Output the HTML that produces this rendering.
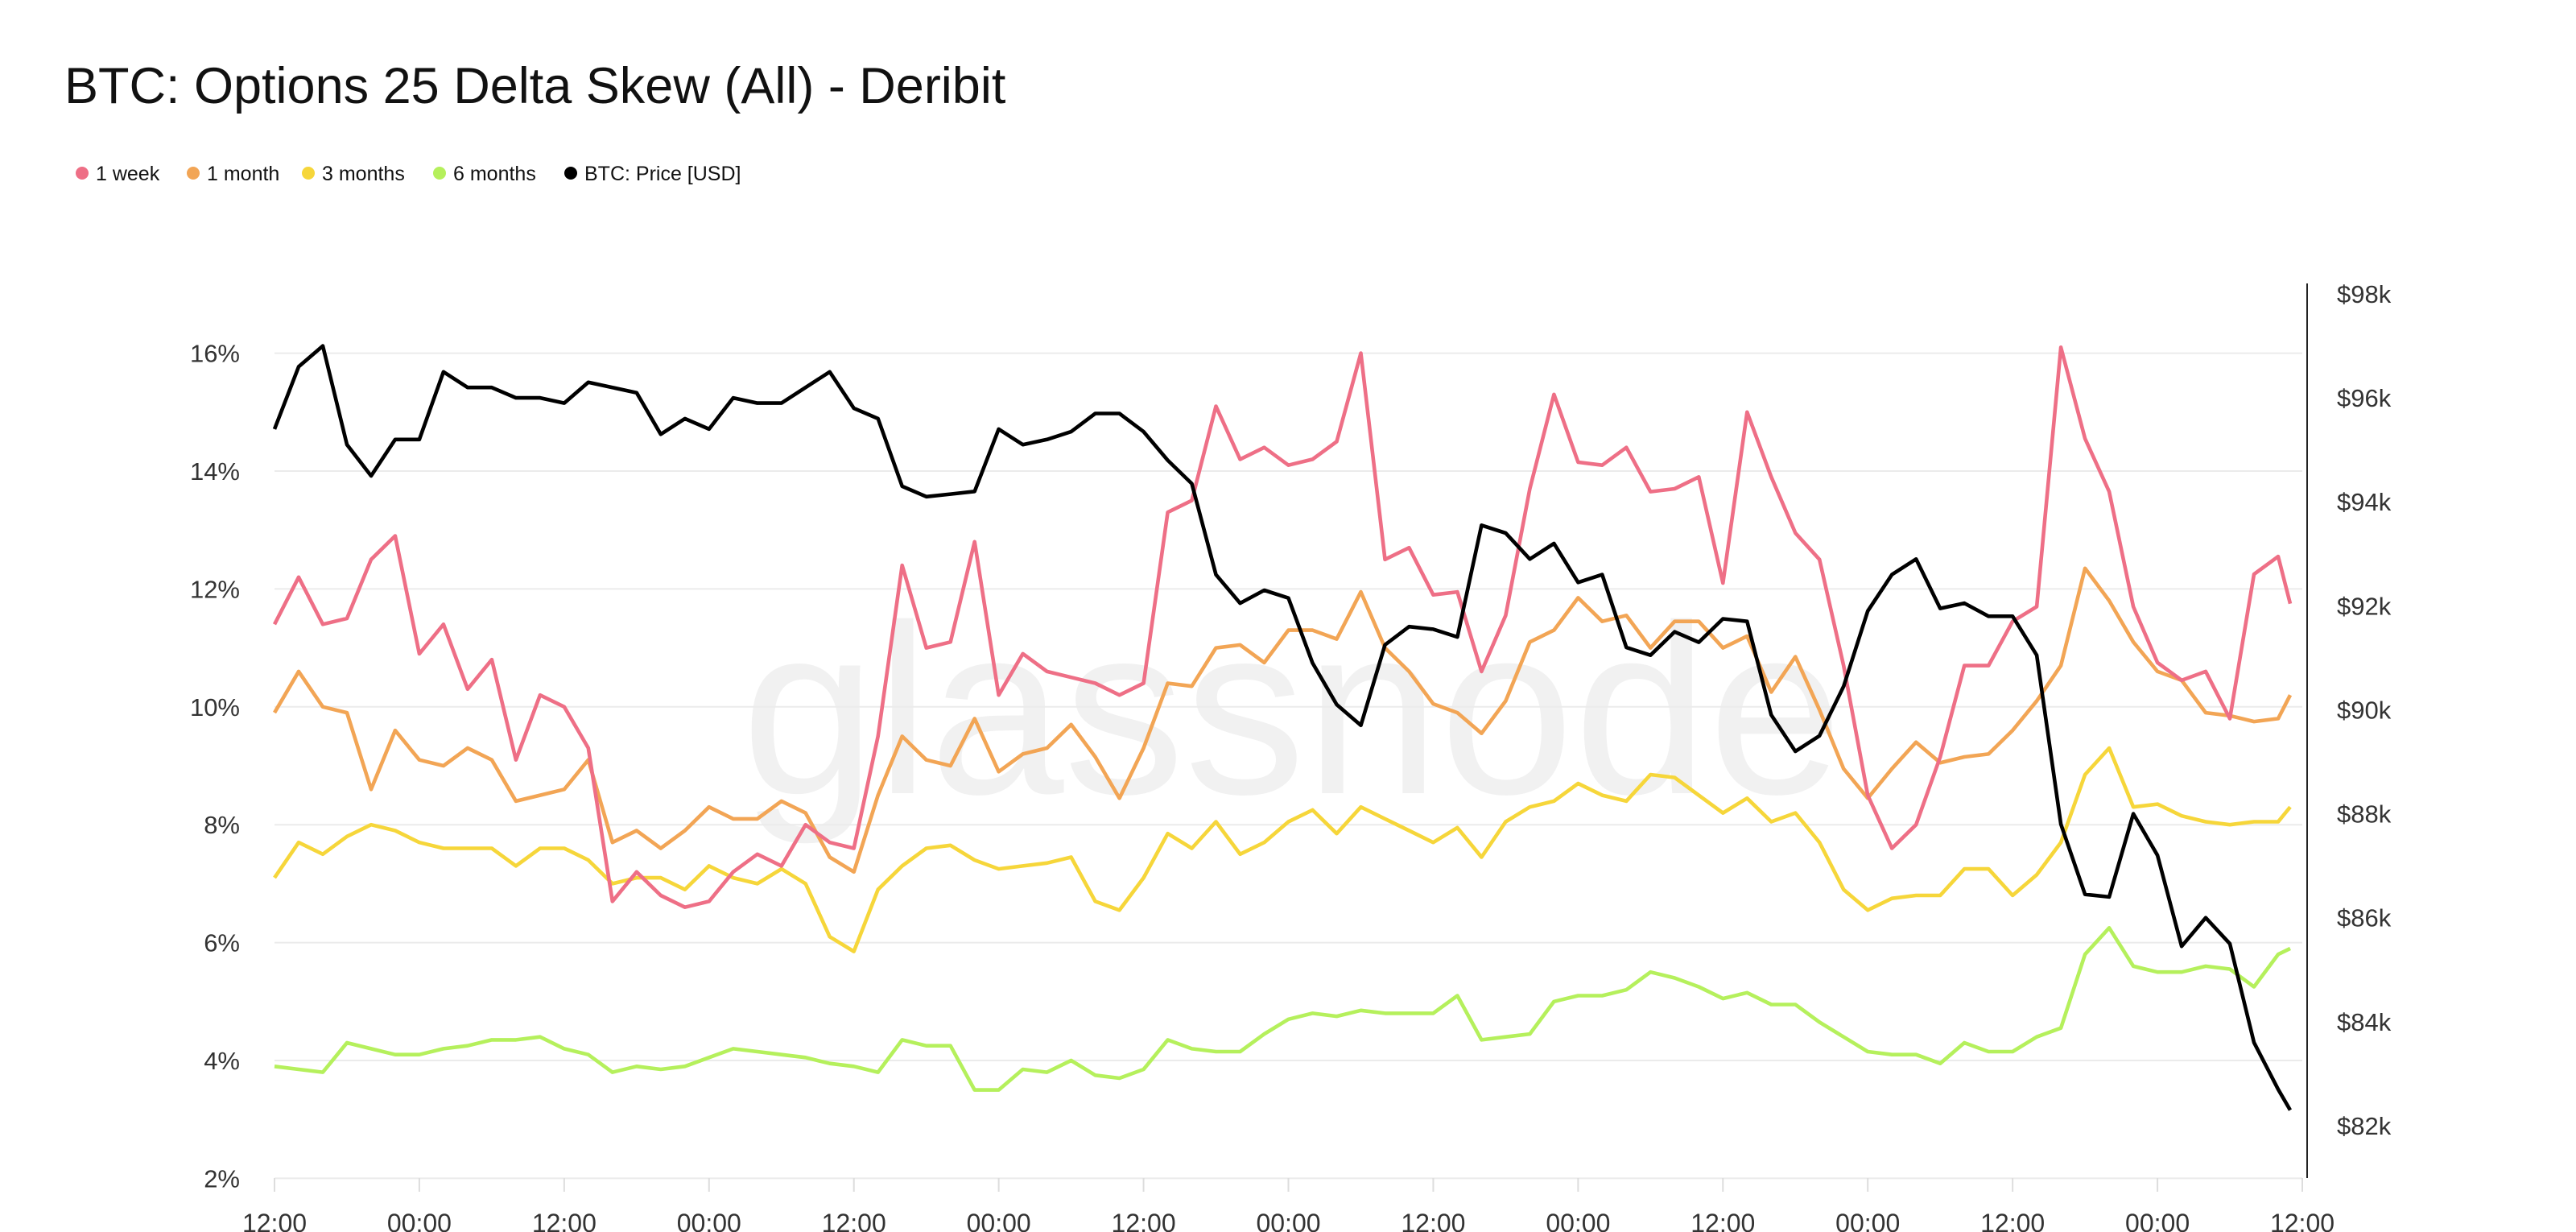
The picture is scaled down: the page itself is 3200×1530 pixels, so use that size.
<!DOCTYPE html>
<html><head><meta charset="utf-8"><style>
html,body{margin:0;padding:0;background:#fff;}
svg{display:block;font-family:"Liberation Sans",Arial,sans-serif;}
</style></head><body>
<svg id="chart" width="3200" height="1530" viewBox="0 0 3200 1530" xmlns="http://www.w3.org/2000/svg">
<text x="80" y="128" font-size="63" fill="#111">BTC: Options 25 Delta Skew (All) - Deribit</text>
<g id="legend"></g>
<text x="1605" y="985" font-size="300" fill="#f1f1f1" text-anchor="middle">glassnode</text>
<g id="grid"></g>
<g id="series"></g>
<g id="axes"></g>
</svg>
<script>
const tickLabelsX = ["12:00","00:00","12:00","00:00","12:00","00:00","12:00","00:00","12:00","00:00","12:00","00:00","12:00","00:00","12:00"];
const leftTicks = [2,4,6,8,10,12,14,16];
const rightTicks = [82,84,86,88,90,92,94,96,98];
const week1 = [11.4,12.2,11.4,11.5,12.5,12.9,10.9,11.4,10.3,10.8,9.1,10.2,10.0,9.3,6.7,7.2,6.8,6.6,6.7,7.2,
7.5,7.3,8.0,7.7,7.6,9.5,12.4,11.0,11.1,12.8,10.2,10.9,10.6,10.5,10.4,10.2,10.4,13.3,13.5,15.1,14.2,14.4,14.1,
14.2,14.5,16.0,12.5,12.7,11.9,11.95,10.6,11.55,13.7,15.3,14.15,14.1,14.4,13.65,13.7,13.9,12.1,15.0,13.9,12.95,12.5,10.7,
8.5,7.6,8.0,9.15,10.7,10.7,11.45,11.7,16.1,14.55,13.65,11.7,10.75,10.45,10.6,9.8,12.25,12.55,11.75];
const month1 = [9.9,10.6,10.0,9.9,8.6,9.6,9.1,9.0,9.3,9.1,8.4,8.5,8.6,9.1,7.7,7.9,7.6,7.9,8.3,8.1,
8.1,8.4,8.2,7.45,7.2,8.5,9.5,9.1,9.0,9.8,8.9,9.2,9.3,9.7,9.15,8.45,9.3,10.4,10.35,11.0,11.05,10.75,11.3,
11.3,11.15,11.95,11.0,10.6,10.05,9.9,9.55,10.1,11.1,11.3,11.85,11.45,11.55,11.0,11.45,11.45,11.0,11.2,10.25,10.85,9.95,8.95,
8.45,8.95,9.4,9.05,9.15,9.2,9.6,10.1,10.7,12.35,11.8,11.1,10.6,10.45,9.9,9.85,9.75,9.8,10.2];
const months3 = [7.1,7.7,7.5,7.8,8.0,7.9,7.7,7.6,7.6,7.6,7.3,7.6,7.6,7.4,7.0,7.1,7.1,6.9,7.3,7.1,
7.0,7.25,7.0,6.1,5.85,6.9,7.3,7.6,7.65,7.4,7.25,7.3,7.35,7.45,6.7,6.55,7.1,7.85,7.6,8.05,7.5,7.7,8.05,
8.25,7.85,8.3,8.1,7.9,7.7,7.95,7.45,8.05,8.3,8.4,8.7,8.5,8.4,8.85,8.8,8.5,8.2,8.45,8.05,8.2,7.7,6.9,
6.55,6.75,6.8,6.8,7.25,7.25,6.8,7.15,7.7,8.85,9.3,8.3,8.35,8.15,8.05,8.0,8.05,8.05,8.3];
const months6 = [3.9,3.85,3.8,4.3,4.2,4.1,4.1,4.2,4.25,4.35,4.35,4.4,4.2,4.1,3.8,3.9,3.85,3.9,4.05,4.2,
4.15,4.1,4.05,3.95,3.9,3.8,4.35,4.25,4.25,3.5,3.5,3.85,3.8,4.0,3.75,3.7,3.85,4.35,4.2,4.15,4.15,4.45,4.7,
4.8,4.75,4.85,4.8,4.8,4.8,5.1,4.35,4.4,4.45,5.0,5.1,5.1,5.2,5.5,5.4,5.25,5.05,5.15,4.95,4.95,4.65,4.4,
4.15,4.1,4.1,3.95,4.3,4.15,4.15,4.4,4.55,5.8,6.25,5.6,5.5,5.5,5.6,5.55,5.25,5.8,5.9];
const priceK = [95.4,96.6,97.0,95.1,94.5,95.2,95.2,96.5,96.2,96.2,96.0,96.0,95.9,96.3,96.2,96.1,95.3,95.6,95.4,96.0,
95.9,95.9,96.2,96.5,95.8,95.6,94.3,94.1,94.15,94.2,95.4,95.1,95.2,95.35,95.7,95.7,95.35,94.8,94.35,92.6,92.05,92.3,92.15,
90.9,90.1,89.7,91.25,91.6,91.55,91.4,93.55,93.4,92.9,93.2,92.45,92.6,91.2,91.05,91.5,91.3,91.75,91.7,89.9,89.2,89.5,90.45,
91.9,92.6,92.9,91.95,92.05,91.8,91.8,91.05,87.8,86.45,86.4,88.0,87.2,85.45,86.0,85.5,83.6,82.7,82.3];

const NS="http://www.w3.org/2000/svg";
const X0=341, X1=2860, HOURS=168;
const xScale = h => X0 + (X1-X0)*h/HOURS;
const yLeft = v => 438.6 + (16-v)*73.2;
const yRight = p => 365 + (98-p)*64.56;
const hourOf = i => Math.min(i*2,167);
function mk(tag, attrs, parent){const e=document.createElementNS(NS,tag);for(const k in attrs)e.setAttribute(k,attrs[k]);parent.appendChild(e);return e;}

const grid=document.getElementById('grid'), axes=document.getElementById('axes'), series=document.getElementById('series'), legend=document.getElementById('legend');
leftTicks.forEach(v=>{
  const l=mk('line',{x1:X0,x2:X1,y1:yLeft(v),y2:yLeft(v),stroke:'#ebebeb','stroke-width':2},grid);
  
  
  const t=mk('text',{x:298,y:yLeft(v)+11,'font-size':31,fill:'#333','text-anchor':'end'},axes);
  t.textContent=v+'%';
  
  
});
rightTicks.forEach(p=>{
  const t=mk('text',{x:2903,y:yRight(p)+11,'font-size':31,fill:'#333'},axes);
  t.textContent='$'+p+'k';
  
  
});
const ra=mk('line',{x1:2866,x2:2866,y1:352,y2:1463,stroke:'#222','stroke-width':2},axes);


tickLabelsX.forEach((s,i)=>{
  const x=xScale(i*12);
  const tk=mk('line',{x1:x,x2:x,y1:1463,y2:1480,stroke:'#ddd','stroke-width':2},axes);
  
  
  const t=mk('text',{x:x,y:1530,'font-size':32,fill:'#333','text-anchor':'middle'},axes);
  t.textContent=s;
  
  
});
function line(data, yf, color, name){
  const d=data.map((v,i)=>(i?'L':'M')+xScale(hourOf(i)).toFixed(1)+' '+yf(v).toFixed(1)).join(' ');
  const p=mk('path',{d:d,fill:'none',stroke:color,'stroke-width':4.6,'stroke-linejoin':'round'},series);
  
  
}
line(months6,yLeft,'#b5f05c','line-6-months');
line(months3,yLeft,'#f6d63a','line-3-months');
line(month1,yLeft,'#f2a555','line-1-month');
line(week1,yLeft,'#ee6f86','line-1-week');
line(priceK,yRight,'#000','line-btc-price');

const items=[['1 week','#ee6f86',102],['1 month','#f2a555',240],['3 months','#f6d63a',383],['6 months','#b5f05c',546],['BTC: Price [USD]','#000',709]];
items.forEach(it=>{
  const g=mk('g',{},legend);
  
  
  mk('circle',{cx:it[2],cy:215,r:8,fill:it[1]},g);
  const t=mk('text',{x:it[2]+17,y:224,'font-size':25,fill:'#111'},g);
  t.textContent=it[0];
});
</script>
</body></html>
